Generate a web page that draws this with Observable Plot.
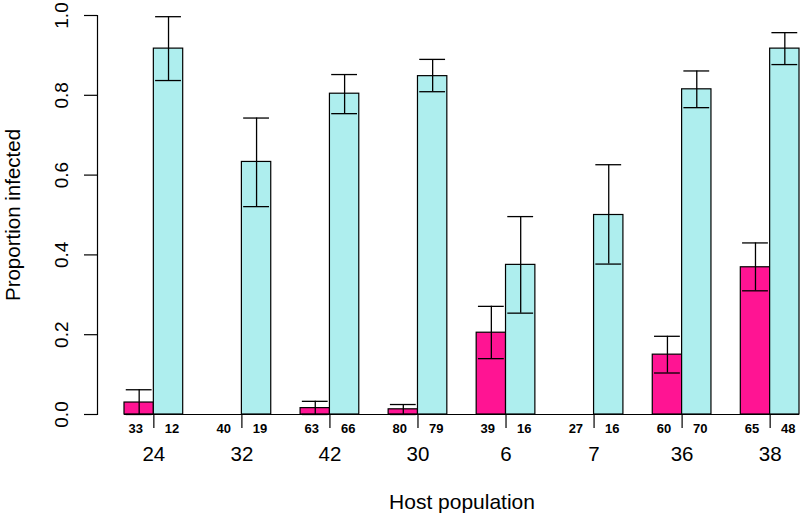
<!DOCTYPE html>
<html>
<head>
<meta charset="utf-8">
<script src="https://cdn.jsdelivr.net/npm/d3@7"></script>
<script src="https://cdn.jsdelivr.net/npm/@observablehq/plot@0.6"></script>
<style>
  html, body { margin: 0; padding: 0; background: #ffffff; }
  #chart svg { display: block; }
</style>
</head>
<body>
<div id="chart"></div>
<script>
// Host populations (x categories)
const groups = ["24", "32", "42", "30", "6", "7", "36", "38"];
// Sample sizes shown under each bar
const pinkN = [33, 40, 63, 80, 39, 27, 60, 65];
const blueN = [12, 19, 66, 79, 16, 16, 70, 48];
// Proportion infected and error-bar ends
const pinkP  = [0.030, 0.000, 0.016, 0.013, 0.205, 0.000, 0.150, 0.369];
const pinkLo = [0.000, 0.000, 0.000, 0.000, 0.140, 0.000, 0.104, 0.310];
const pinkHi = [0.062, 0.000, 0.033, 0.025, 0.271, 0.000, 0.196, 0.430];
const blueP  = [0.917, 0.633, 0.804, 0.848, 0.375, 0.500, 0.815, 0.917];
const blueLo = [0.837, 0.521, 0.754, 0.809, 0.254, 0.377, 0.769, 0.877];
const blueHi = [0.997, 0.743, 0.852, 0.890, 0.496, 0.626, 0.861, 0.957];
const yTicks = [0, 0.2, 0.4, 0.6, 0.8, 1.0];

const PINK = "#FF1493";
const BLUE = "#AEEEEE";
const FONT = "'Liberation Sans', Arial, Helvetica, sans-serif";

// build bar table: R barplot layout (bar width 1, one bar gap between groups)
const rows = [];
groups.forEach((g, i) => {
  const base = 3 * i + 1;
  rows.push({group: g, kind: "pink", x1: base, x2: base + 1, p: pinkP[i], lo: pinkLo[i], hi: pinkHi[i], n: pinkN[i], fill: PINK});
  rows.push({group: g, kind: "blue", x1: base + 1, x2: base + 2, p: blueP[i], lo: blueLo[i], hi: blueHi[i], n: blueN[i], fill: BLUE});
});
rows.forEach(d => d.xc = (d.x1 + d.x2) / 2);
const centers = groups.map((g, i) => ({group: g, x: rows[2 * i].x2}));
const xMin = d3.min(rows, d => d.x1), xMax = d3.max(rows, d => d.x2);
const pad = (xMax - xMin) * 0.04;
const capHalf = 0.44;
const err = rows.filter(d => d.hi > d.lo);
const txt = {textAnchor: "middle", lineAnchor: "middle", fill: "#000"};

const chart = Plot.plot({
  width: 800,
  height: 515,
  marginLeft: 97,
  marginRight: -26,
  marginTop: 15,
  marginBottom: 101,
  x: {domain: [xMin - pad, xMax + pad], axis: null},
  y: {domain: [0, 1], axis: null},
  style: {fontFamily: FONT, background: "#ffffff", color: "#000"},
  marks: [
    Plot.rectY(rows, {x1: "x1", x2: "x2", y1: 0, y2: "p", fill: "fill", stroke: "#000", strokeWidth: 1.2}),
    // error bars
    Plot.ruleX(err, {x: "xc", y1: "lo", y2: "hi", stroke: "#000", strokeWidth: 1.3}),
    Plot.ruleY(err, {y: "hi", x1: d => d.xc - capHalf, x2: d => d.xc + capHalf, stroke: "#000", strokeWidth: 1.3}),
    Plot.ruleY(err, {y: "lo", x1: d => d.xc - capHalf, x2: d => d.xc + capHalf, stroke: "#000", strokeWidth: 1.3}),
    // baseline
    Plot.ruleY([0], {x1: xMin, x2: xMax, stroke: "#000", strokeWidth: 1.2}),
    // y axis line + ticks + labels
    Plot.frame({anchor: "left", stroke: "#000", strokeWidth: 1.2}),
    Plot.ruleY(yTicks, {y: d => d, x1: xMin - pad, x2: xMin - pad, insetLeft: -13, stroke: "#000", strokeWidth: 1.2}),
    Plot.text(yTicks, {...txt, y: d => d, text: d => d.toFixed(1), frameAnchor: "left", dx: -36, rotate: -90, fontSize: 19}),
    Plot.text(["Proportion infected"], {...txt, frameAnchor: "left", dx: -84, rotate: -90, fontSize: 20.5}),
    // x ticks at group centres
    Plot.ruleX(centers, {x: "x", y1: 0, y2: 0, insetBottom: -14, stroke: "#000", strokeWidth: 1.2}),
    // sample sizes
    Plot.text(rows, {...txt, x: d => d.kind === "pink" ? d.xc - 0.12 : d.xc + 0.12, text: d => String(d.n), frameAnchor: "bottom", dy: 14.5, fontSize: 13, fontWeight: "bold"}),
    // group labels
    Plot.text(centers, {...txt, x: "x", text: "group", frameAnchor: "bottom", dy: 40, fontSize: 20.5}),
    Plot.text(["Host population"], {...txt, x: (xMin + xMax) / 2, frameAnchor: "bottom", dy: 88, fontSize: 21})
  ]
});
document.getElementById("chart").appendChild(chart);
</script>
</body>
</html>
